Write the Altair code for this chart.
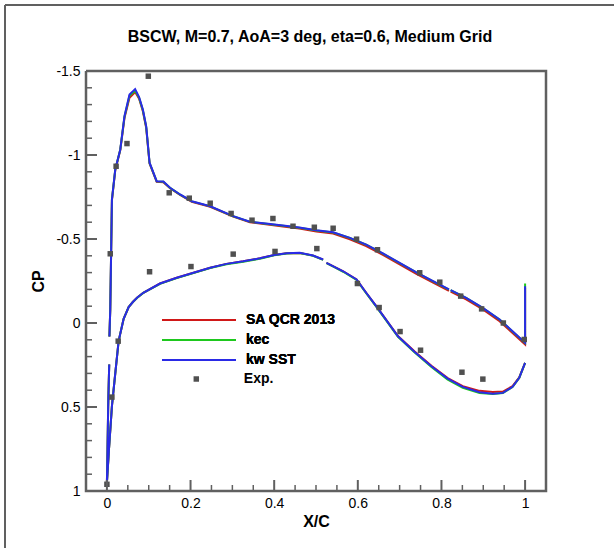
import altair as alt
import pandas as pd

TITLE = "BSCW, M=0.7, AoA=3 deg, eta=0.6, Medium Grid"
MODELS = ["SA QCR 2013", "kec", "kw SST"]
COLORS = ["#d01818", "#1ec81e", "#2a2ae6"]
EXP_LABEL = "Exp."
FONT = "Liberation Sans"
INK = "#606060"

x_up1 = [0.006, 0.008, 0.012, 0.020, 0.032, 0.042, 0.054, 0.0675, 0.077, 0.086, 0.094,
         0.102, 0.119, 0.135, 0.151, 0.175, 0.203, 0.247, 0.302, 0.342, 0.380, 0.421,
         0.460, 0.501, 0.541, 0.581, 0.620, 0.660, 0.700, 0.740, 0.780, 0.818]
cp_up1_sa = [0.08, -0.08, -0.73, -0.91, -1.03, -1.22, -1.34, -1.375, -1.335, -1.26, -1.16,
             -0.95, -0.840, -0.838, -0.802, -0.762, -0.722, -0.692, -0.633, -0.600, -0.588, -0.575,
             -0.562, -0.545, -0.532, -0.498, -0.458, -0.405, -0.349, -0.293, -0.240, -0.191]
cp_up1_kec = [0.08, -0.08, -0.735, -0.914, -1.033, -1.228, -1.352, -1.382, -1.340, -1.266, -1.166,
              -0.952, -0.843, -0.841, -0.804, -0.764, -0.724, -0.694, -0.635, -0.602, -0.591, -0.579,
              -0.567, -0.551, -0.539, -0.506, -0.466, -0.413, -0.357, -0.301, -0.248, -0.199]
cp_up1_sst = [0.08, -0.08, -0.735, -0.914, -1.033, -1.231, -1.360, -1.392, -1.345, -1.271, -1.171,
              -0.954, -0.844, -0.842, -0.805, -0.765, -0.725, -0.695, -0.636, -0.603, -0.592, -0.580,
              -0.568, -0.552, -0.540, -0.507, -0.467, -0.414, -0.358, -0.302, -0.249, -0.200]

x_up2 = [0.822, 0.859, 0.899, 0.939, 0.970, 1.0, 1.0]
cp_up2_sa = [-0.187, -0.141, -0.081, -0.011, 0.059, 0.128, -0.21]
cp_up2_kec = [-0.195, -0.149, -0.089, -0.020, 0.050, 0.119, -0.235]
cp_up2_sst = [-0.196, -0.150, -0.090, -0.021, 0.049, 0.118, -0.219]

x_lo1 = [0.0055, 0.003, 0.0015, 0.0, 0.005, 0.012, 0.020, 0.028, 0.040, 0.052, 0.062, 0.072,
         0.087, 0.127, 0.167, 0.207, 0.247, 0.286, 0.326, 0.366, 0.400, 0.430, 0.461, 0.493, 0.517]
cp_lo1_sa = [0.247, 0.50, 0.75, 0.95, 0.75, 0.495, 0.30, 0.108, -0.025, -0.095, -0.125, -0.150,
             -0.180, -0.235, -0.269, -0.299, -0.329, -0.352, -0.367, -0.385, -0.405, -0.415, -0.417, -0.401, -0.377]
cp_lo1_kec = [0.247, 0.50, 0.75, 0.95, 0.75, 0.495, 0.30, 0.108, -0.025, -0.095, -0.125, -0.149,
              -0.179, -0.233, -0.267, -0.297, -0.327, -0.350, -0.365, -0.383, -0.403, -0.413, -0.416, -0.400, -0.376]
cp_lo1_sst = [0.247, 0.50, 0.75, 0.95, 0.75, 0.495, 0.30, 0.108, -0.025, -0.095, -0.125, -0.150,
              -0.180, -0.235, -0.269, -0.299, -0.329, -0.352, -0.367, -0.385, -0.405, -0.415, -0.418, -0.402, -0.378]

x_lo2 = [0.525, 0.545, 0.565, 0.597, 0.620, 0.644, 0.660, 0.696, 0.736, 0.776, 0.815,
         0.851, 0.891, 0.923, 0.947, 0.970, 0.986, 1.0]
cp_lo2_sa = [-0.358, -0.333, -0.308, -0.259, -0.180, -0.100, -0.045, 0.078, 0.170, 0.255, 0.328,
             0.376, 0.404, 0.410, 0.408, 0.376, 0.324, 0.237]
cp_lo2_kec = [-0.356, -0.331, -0.305, -0.256, -0.177, -0.097, -0.042, 0.082, 0.176, 0.262, 0.337,
              0.386, 0.416, 0.423, 0.417, 0.381, 0.327, 0.237]
cp_lo2_sst = [-0.358, -0.333, -0.308, -0.259, -0.180, -0.100, -0.045, 0.079, 0.172, 0.257, 0.331,
              0.380, 0.412, 0.421, 0.416, 0.380, 0.326, 0.237]

exp_x = [0.008, 0.022, 0.048, 0.099, 0.149, 0.197, 0.247, 0.297, 0.347, 0.397, 0.445,
         0.496, 0.541, 0.597, 0.647, 0.748, 0.796, 0.846, 0.896, 0.948, 0.998,
         0.0, 0.012, 0.027, 0.102, 0.201, 0.302, 0.402, 0.502, 0.599, 0.651, 0.701,
         0.750, 0.849, 0.899]
exp_cp = [-0.412, -0.933, -1.068, -1.469, -0.775, -0.743, -0.713, -0.652, -0.612, -0.622, -0.576,
          -0.570, -0.564, -0.499, -0.436, -0.299, -0.243, -0.160, -0.084, 0.0, 0.098,
          0.96, 0.441, 0.108, -0.305, -0.336, -0.410, -0.426, -0.443, -0.235, -0.092, 0.051,
          0.162, 0.293, 0.334]

x_major = [0, 0.2, 0.4, 0.6, 0.8, 1.0]
x_minor = [0.05, 0.1, 0.15, 0.25, 0.3, 0.35, 0.45, 0.5, 0.55, 0.65, 0.7, 0.75, 0.85, 0.9, 0.95]
y_major = [-1.5, -1.0, -0.5, 0.0, 0.5, 1.0]
y_minor = [-1.4, -1.3, -1.2, -1.1, -0.9, -0.8, -0.7, -0.6, -0.4, -0.3, -0.2, -0.1,
           0.1, 0.2, 0.3, 0.4, 0.6, 0.7, 0.8, 0.9]

W, H = 460, 420

segments = [
    ("up1", x_up1, {"SA QCR 2013": cp_up1_sa, "kec": cp_up1_kec, "kw SST": cp_up1_sst}),
    ("up2", x_up2, {"SA QCR 2013": cp_up2_sa, "kec": cp_up2_kec, "kw SST": cp_up2_sst}),
    ("lo1", x_lo1, {"SA QCR 2013": cp_lo1_sa, "kec": cp_lo1_kec, "kw SST": cp_lo1_sst}),
    ("lo2", x_lo2, {"SA QCR 2013": cp_lo2_sa, "kec": cp_lo2_kec, "kw SST": cp_lo2_sst}),
]
rows = []
for seg, xs_, cps in segments:
    for m in MODELS:
        for i, (xv, cv) in enumerate(zip(xs_, cps[m])):
            rows.append({"x": xv, "cp": cv, "model": m, "seg": seg, "idx": i})
lines_df = pd.DataFrame(rows)
exp_df = pd.DataFrame({"x": exp_x, "cp": exp_cp, "src": EXP_LABEL})

xs = alt.Scale(domain=[-0.05, 1.05], nice=False, zero=False)
ys = alt.Scale(domain=[-1.5, 1.0], nice=False, zero=False, reverse=True)

xaxis = alt.Axis(values=x_major, ticks=False, domain=False, grid=False,
                 labelFont=FONT, labelFontSize=14, labelColor="black", labelPadding=5,
                 labelExpr="format(datum.value, '~g')",
                 title="X/C", titleFont=FONT, titleFontSize=16, titleFontWeight="bold",
                 titleColor="black", titleX=W / 2, titleY=30, titleBaseline="middle")
yaxis = alt.Axis(values=y_major, ticks=False, domain=False, grid=False,
                 labelFont=FONT, labelFontSize=14, labelColor="black", labelPadding=6,
                 labelExpr="(datum.value < 0 ? '-' : '') + format(abs(datum.value), '~g')",
                 title="CP", titleFont=FONT, titleFontSize=16, titleFontWeight="bold",
                 titleColor="black", titleX=-48, titleY=H / 2, titleAngle=270,
                 titleAlign="center", titleBaseline="middle")


def X(f):
    return alt.X(f, type="quantitative", scale=xs, axis=xaxis)


def Y(f):
    return alt.Y(f, type="quantitative", scale=ys, axis=yaxis)


line_legend = alt.Legend(title=None, orient="none", legendX=106, legendY=242,
                         symbolType="M-9.25,0H9.25", symbolSize=64, symbolStrokeWidth=2,
                         labelOffset=40, labelFont=FONT, labelFontSize=14,
                         labelFontWeight="bold", labelColor="black", rowPadding=6, padding=0)
color_enc = alt.Color("model:N", scale=alt.Scale(domain=MODELS, range=COLORS), legend=line_legend)

layers = []
for m in MODELS:
    layers.append(
        alt.Chart(lines_df[lines_df.model == m]).mark_line(strokeWidth=2).encode(
            x=X("x"), y=Y("cp"), color=color_enc, detail="seg:N", order="idx:Q")
    )

exp_legend = alt.Legend(title=None, orient="none", legendX=103.3, legendY=301,
                        symbolSize=30, symbolFillColor="#505050", symbolStrokeWidth=0,
                        labelOffset=40.5, labelFont=FONT, labelFontSize=14,
                        labelFontWeight="bold", labelColor="black", padding=0)
points = alt.Chart(exp_df).mark_point(filled=True, size=30, color="#505050", opacity=1).encode(
    x=X("x"), y=Y("cp"),
    shape=alt.Shape("src:N", scale=alt.Scale(domain=[EXP_LABEL], range=["square"]), legend=exp_legend))

# inward tick marks through the scales (two-point line segments)
major_rows, minor_rows = [], []
for k, v in enumerate(x_major):
    major_rows += [{"tx": v, "ty": 1.0, "id": "x%d" % k}, {"tx": v, "ty": 1.0 - 11 / 168, "id": "x%d" % k}]
for k, v in enumerate(y_major):
    major_rows += [{"tx": -0.05, "ty": v, "id": "y%d" % k}, {"tx": -0.05 + 11 / 418.2, "ty": v, "id": "y%d" % k}]
for k, v in enumerate(x_minor):
    minor_rows += [{"tx": v, "ty": 1.0, "id": "x%d" % k}, {"tx": v, "ty": 1.0 - 6 / 168, "id": "x%d" % k}]
for k, v in enumerate(y_minor):
    minor_rows += [{"tx": -0.05, "ty": v, "id": "y%d" % k}, {"tx": -0.05 + 6 / 418.2, "ty": v, "id": "y%d" % k}]
ticks_major = alt.Chart(pd.DataFrame(major_rows)).mark_line(color=INK, strokeWidth=2).encode(
    x=X("tx"), y=Y("ty"), detail="id:N")
ticks_minor = alt.Chart(pd.DataFrame(minor_rows)).mark_line(color=INK, strokeWidth=1.5).encode(
    x=X("tx"), y=Y("ty"), detail="id:N")

# plot frame through the scales
frame_df = pd.DataFrame({"fx": [-0.05, 1.05, 1.05, -0.05, -0.05], "fy": [-1.5, -1.5, 1.0, 1.0, -1.5],
                         "o": [0, 1, 2, 3, 4]})
frame = alt.Chart(frame_df).mark_line(color=INK, strokeWidth=2.5, strokeJoin="miter").encode(
    x=X("fx"), y=Y("fy"), order="o:Q")

one = pd.DataFrame({"a": [0]})
border_left = alt.Chart(one).mark_rule(color="#606060", strokeWidth=2).encode(
    x=alt.value(-81), y=alt.value(-66), y2=alt.value(H + 60))
border_top = alt.Chart(one).mark_rule(color="#606060", strokeWidth=2).encode(
    x=alt.value(-81), x2=alt.value(W + 70), y=alt.value(-66))

title_mark = alt.Chart(pd.DataFrame({"t": [TITLE]})).mark_text(
    font=FONT, fontSize=16, fontWeight="bold", color="black", align="center", baseline="middle"
).encode(text="t:N", x=alt.value(W / 2 - 6), y=alt.value(-34))

chart = alt.layer(border_left, border_top, title_mark,
                  *layers, points, ticks_major, ticks_minor, frame).resolve_legend(
    color="independent", shape="independent").properties(
    width=W, height=H,
    autosize=alt.AutoSizeParams(type="none"),
    padding={"left": 86, "top": 71, "right": 68, "bottom": 57},
).configure_view(stroke="transparent", strokeWidth=0)

chart.save("out.html", embed_options={"renderer": "svg", "actions": False})
